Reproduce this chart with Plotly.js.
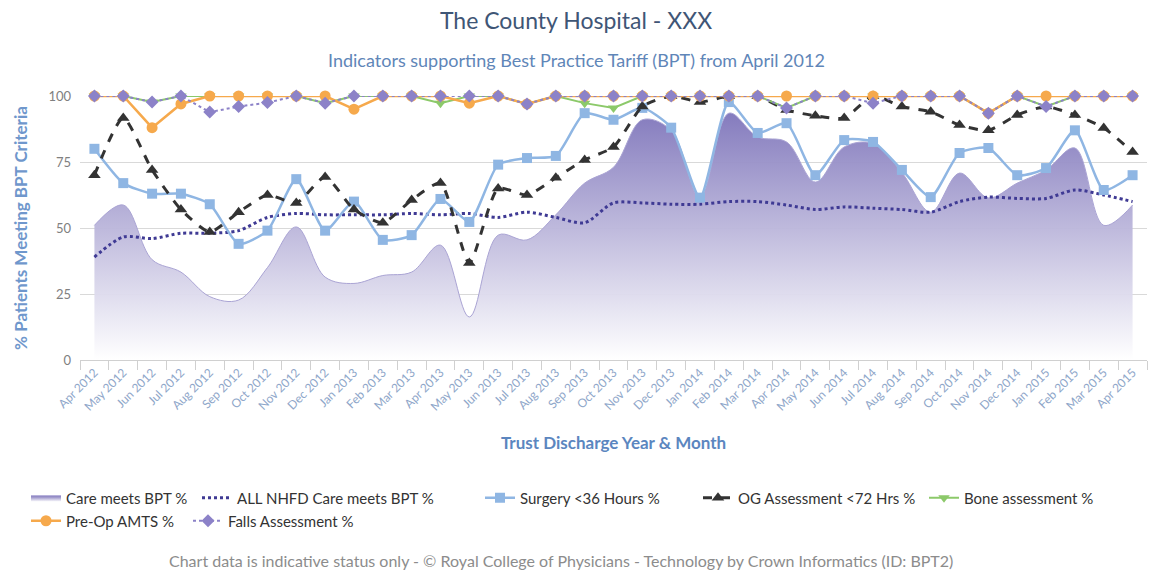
<!DOCTYPE html>
<html>
<head>
<meta charset="utf-8">
<script src="https://cdn.plot.ly/plotly-3.0.1.min.js"></script>
<style>html,body{margin:0;padding:0;background:#fff;}#chart{width:1152px;height:570px;}</style>
</head>
<body>
<div id="chart"></div>
<script>
const months = ['Apr 2012','May 2012','Jun 2012','Jul 2012','Aug 2012','Sep 2012','Oct 2012','Nov 2012','Dec 2012',
  'Jan 2013','Feb 2013','Mar 2013','Apr 2013','May 2013','Jun 2013','Jul 2013','Aug 2013','Sep 2013','Oct 2013','Nov 2013','Dec 2013',
  'Jan 2014','Feb 2014','Mar 2014','Apr 2014','May 2014','Jun 2014','Jul 2014','Aug 2014','Sep 2014','Oct 2014','Nov 2014','Dec 2014',
  'Jan 2015','Feb 2015','Mar 2015','Apr 2015'];

const careMeetsBPT = [51, 58.7, 38, 33.3, 24, 22.7, 35, 50.4, 31.4, 29, 32, 33.3, 43.5, 16.3, 47.3, 45.5, 55, 67, 73, 91, 87, 61.4, 93.5, 84.5, 82.6, 67.4, 80.7, 82, 71, 56, 70.8, 61.4, 67, 72, 80.3, 51, 58.7];
const allNHFD = [39, 46.6, 46, 48, 48, 49, 54, 55.5, 55, 55, 55, 55.5, 55, 55.5, 54, 56, 54, 52, 59.5, 59.5, 59, 59, 60, 60, 58.7, 57, 58, 57.5, 57, 56, 60, 61.7, 61.2, 61.2, 64.4, 62.5, 60];
const surgery36 = [80, 67, 63, 63, 59, 44, 49, 68.5, 49, 60, 45.5, 47.3, 61, 52.3, 74, 76.5, 77.3, 93.5, 91, 95.5, 88, 61.5, 97.7, 86, 89.7, 70, 83.3, 82.6, 72, 61.7, 78.4, 80.3, 70, 72.7, 87, 64.4, 70];
const ogAssess = [70, 91.7, 72, 57, 48.5, 56, 62.5, 59.5, 69.3, 57, 52, 60.6, 67, 36.7, 65, 62.5, 69, 75.8, 80.7, 96, 100, 97.7, 100, 100, 94.7, 92.5, 91.7, 100, 96, 94, 89, 87, 92.8, 96, 92.8, 87.9, 78.8];
const boneAssess = [100, 100, 97.7, 100, 100, 100, 100, 100, 97.3, 100, 100, 100, 97.3, 100, 100, 97, 100, 97.3, 95.5, 100, 100, 100, 100, 100, 95.5, 100, 100, 100, 100, 100, 100, 93.5, 100, 96, 100, 100, 100];
const preOpAMTS = [100, 100, 88, 97, 100, 100, 100, 100, 100, 95, 100, 100, 100, 97.3, 100, 97, 100, 100, 100, 100, 100, 100, 100, 100, 100, 100, 100, 100, 100, 100, 100, 93.5, 100, 100, 100, 100, 100];
const fallsAssess = [100, 100, 97.7, 100, 93.9, 96, 97.5, 100, 97.3, 100, 100, 100, 100, 100, 100, 97, 100, 100, 100, 100, 100, 100, 100, 100, 95.5, 100, 100, 97.3, 100, 100, 100, 93.5, 100, 96, 100, 100, 100];
const yTicks = [0, 25, 50, 75, 100];

const FONT = 'Lato, "Open Sans", sans-serif';

const traces = [
  {name: 'Care meets BPT %', x: months, y: careMeetsBPT, type: 'scatter', mode: 'lines', legend: 'legend',
   line: {color: '#aaa4d4', width: 1, shape: 'spline', smoothing: 1},
   fill: 'tozeroy',
   fillcolor: 'rgba(150,143,205,0.6)',
   fillgradient: {type: 'vertical', colorscale: [[0, 'rgba(255,255,255,0.95)'], [1, 'rgba(120,110,183,0.97)']], start: 0, stop: 100},
   cliponaxis: false},
  {name: 'ALL NHFD Care meets BPT %', x: months, y: allNHFD, type: 'scatter', mode: 'lines', legend: 'legend2',
   line: {color: '#3f3a94', width: 3, dash: 'dot', shape: 'spline', smoothing: 0.8}, cliponaxis: false},
  {name: 'Surgery <36 Hours %', x: months, y: surgery36, type: 'scatter', mode: 'lines+markers', legend: 'legend3',
   line: {color: '#8fb6e3', width: 2.5, shape: 'spline', smoothing: 0.6},
   marker: {symbol: 'square', size: 10, color: '#8fb6e3'}, cliponaxis: false},
  {name: 'OG Assessment <72 Hrs %', x: months, y: ogAssess, type: 'scatter', mode: 'lines+markers', legend: 'legend4',
   line: {color: '#333333', width: 3, dash: 'dash', shape: 'spline', smoothing: 0.6},
   marker: {symbol: 'triangle-up', size: 11, color: '#333333'}, cliponaxis: false},
  {name: 'Bone assessment %', x: months, y: boneAssess, type: 'scatter', mode: 'lines+markers', legend: 'legend5',
   line: {color: '#8cc96a', width: 2},
   marker: {symbol: 'triangle-down', size: 10, color: '#8cc96a'}, cliponaxis: false},
  {name: 'Pre-Op AMTS %', x: months, y: preOpAMTS, type: 'scatter', mode: 'lines+markers', legend: 'legend6',
   line: {color: '#f6a94c', width: 2.5},
   marker: {symbol: 'circle', size: 11, color: '#f6a94c'}, cliponaxis: false},
  {name: 'Falls Assessment %', x: months, y: fallsAssess, type: 'scatter', mode: 'lines+markers', legend: 'legend7',
   line: {color: '#8c82c8', width: 2, dash: 'dot'},
   marker: {symbol: 'diamond', size: 10, color: '#8c82c8'}, cliponaxis: false}
];

const legendFont = {family: FONT, size: 15, color: '#333333'};
// legend placement in pixels: [left px, row center px]
const legendSpots = [[26, 498], [197, 498], [480, 498], [698, 498], [924, 498], [26, 521], [188, 521]];
const PL = 80, PW = 1067, PB = 360, PH = 264;

const layout = {
  width: 1152, height: 570,
  margin: {l: 80, r: 5, t: 96, b: 210},
  paper_bgcolor: '#ffffff', plot_bgcolor: '#ffffff',
  font: {family: FONT, color: '#555555'},
  title: {text: 'The County Hospital - XXX', font: {family: FONT, size: 23, color: '#3f5676'},
          x: 0.5, xref: 'container', y: 0.963, yref: 'container', yanchor: 'middle'},
  xaxis: {type: 'category', range: [-0.5, 36.5], tickson: 'boundaries', ticks: 'outside', ticklen: 9,
          tickcolor: '#d0d0d0', showline: true, linecolor: '#d0d0d0', linewidth: 1, showgrid: false,
          tickangle: -45, tickfont: {family: FONT, size: 12, color: '#8ea6c9'},
          title: {text: 'Trust Discharge Year & Month', font: {family: FONT, size: 17, color: '#5b86bf', weight: 'bold'}, standoff: 24}},
  yaxis: {range: [0, 100], tickvals: yTicks, ticktext: yTicks.map(String), showgrid: true, gridcolor: '#d9d9d9', gridwidth: 1,
          zeroline: false, ticks: '', tickfont: {family: FONT, size: 13, color: '#808080'}, ticklabelstandoff: 8,
          title: {text: '% Patients Meeting BPT Criteria', font: {family: FONT, size: 17, color: '#6f97cc', weight: 'bold'}, standoff: 16}},
  showlegend: true,
  annotations: [
    {text: 'Indicators supporting Best Practice Tariff (BPT) from April 2012', xref: 'paper', yref: 'paper',
     x: 0.465, y: 1.136, xanchor: 'center', yanchor: 'middle', showarrow: false,
     font: {family: FONT, size: 18, color: '#5f86b8'}},
    {text: 'Chart data is indicative status only - © Royal College of Physicians - Technology by Crown Informatics (ID: BPT2)',
     xref: 'paper', yref: 'paper', x: 0.451, y: -0.761, xanchor: 'center', yanchor: 'middle', showarrow: false,
     font: {family: FONT, size: 16, color: '#8c8c8c'}}
  ]
};
legendSpots.forEach((s, i) => {
  const key = i === 0 ? 'legend' : 'legend' + (i + 1);
  layout[key] = {orientation: 'h', x: (s[0] - PL) / PW, xanchor: 'left', y: (PB - s[1]) / PH, yanchor: 'middle',
                 font: legendFont, itemwidth: 30, bgcolor: 'rgba(0,0,0,0)'};
});

Plotly.newPlot('chart', traces, layout, {displayModeBar: false, staticPlot: true});
</script>
</body>
</html>
